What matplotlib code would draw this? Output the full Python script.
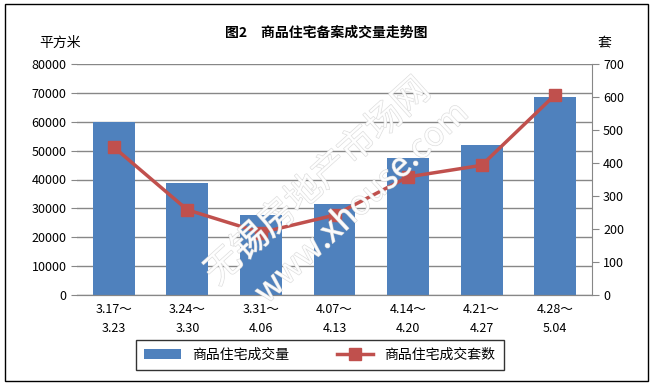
import matplotlib
matplotlib.use('Agg')
import matplotlib.pyplot as plt
import matplotlib.patheffects as pe
from matplotlib.patches import Rectangle
from matplotlib.lines import Line2D
from matplotlib.patches import Patch

plt.rcParams['font.family'] = ['Noto Sans CJK SC', 'DejaVu Sans']

# data
weeks = ['3.17～\n3.23', '3.24～\n3.30', '3.31～\n4.06', '4.07～\n4.13',
         '4.14～\n4.20', '4.21～\n4.27', '4.28～\n5.04']
area = [60000, 38800, 27700, 31500, 47400, 51900, 68600]   # 平方米
units = [448, 258, 189, 242, 358, 393, 607]                # 套

fig = plt.figure(figsize=(6.53, 3.86), dpi=100)
ax1 = fig.add_axes([77/653, 1-295/386, (592-77)/653, (295-64)/386])
ax2 = ax1.twinx()

x = range(len(weeks))
ax1.bar(x, area, width=0.57, color='#4F81BD', zorder=2)
ax2.plot(x, units, color='#C0504D', lw=2.5, marker='s', markersize=8,
         markerfacecolor='#C0504D', markeredgecolor='#C0504D', zorder=3)

ax1.set_xlim(-0.5, len(weeks)-0.5)
ax1.set_ylim(0, 80000)
ax1.set_yticks(range(0, 80001, 10000))
ax2.set_ylim(0, 700)
ax2.set_yticks(range(0, 701, 100))
ax1.grid(axis='y', color='#878787', lw=1, zorder=0)
ax1.set_xticks(list(x))
ax1.set_xticklabels(weeks, fontsize=9, linespacing=1.6)
ax1.tick_params(axis='x', length=0, pad=6)
ax1.tick_params(axis='y', length=4, color='#878787', labelsize=9)
ax2.tick_params(axis='y', length=5, color='#878787', labelsize=9, pad=3)

for s in ['top', 'left']:
    ax1.spines[s].set_visible(False)
    ax2.spines[s].set_visible(False)
ax1.spines['right'].set_visible(False)
ax2.spines['right'].set_color('#878787')
ax2.spines['bottom'].set_color('#878787')
ax1.spines['bottom'].set_color('#878787')

fig.text(0.5, 1-33/386, '图2　商品住宅备案成交量走势图', ha='center', va='center',
         fontsize=10, fontweight='bold')
fig.text(60/653, 1-43/386, '平方米', ha='center', va='center', fontsize=10)
fig.text(604/653, 1-43/386, '套', ha='center', va='center', fontsize=10)

# watermark (outlined text)
wm = [pe.withStroke(linewidth=0.8, foreground='#d4d4d4')]
fig.text(318/653, 1-182/386, '无锡房地产市场网', rotation=42, ha='center', va='center',
         fontsize=26, fontweight='light', color='white', alpha=0.85,
         path_effects=wm, zorder=10)
fig.text(362/653, 1-203/386, 'www.xhouse.com', rotation=43, ha='center', va='center',
         fontsize=24, fontweight='light', color='white', alpha=0.85,
         path_effects=wm, zorder=10)

handles = [Patch(facecolor='#4F81BD'),
           Line2D([], [], color='#C0504D', lw=2.5, marker='s', markersize=8)]
leg = fig.legend(handles, ['商品住宅成交量', '商品住宅成交套数'], loc='center',
                 bbox_to_anchor=(320/653, 1-355/386), ncol=2, fontsize=10,
                 frameon=True, fancybox=False, edgecolor='black',
                 handlelength=2.6, columnspacing=3.5, borderpad=0.6)
leg.get_frame().set_linewidth(1)

fig.patches.append(Rectangle((5/653, 5/386), 643/653, 377/386, transform=fig.transFigure,
                             fill=False, edgecolor='black', lw=1))

fig.savefig('out.png', dpi=100)
